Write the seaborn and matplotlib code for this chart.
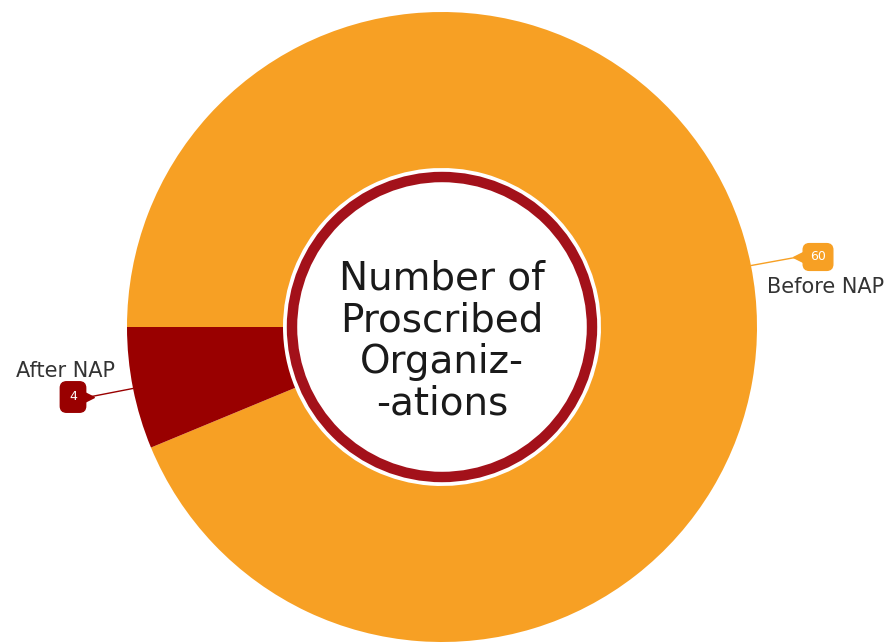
import matplotlib
matplotlib.use("Agg")
import matplotlib.pyplot as plt
from matplotlib.patches import Circle
import seaborn as sns
import numpy as np

# Proscribed organizations before / after the National Action Plan
labels = ["Before NAP", "After NAP"]
values = [60, 4]
colors = ["#F7A024", "#990000"]
center_title = "Number of\nProscribed\nOrganiz-\n-ations"

sns.set_theme(style="white")
plt.rcParams["font.family"] = ["DejaVu Sans"]

W, H = 894, 643
fig = plt.figure(figsize=(W / 100, H / 100), dpi=100)
ax = fig.add_axes([0, 0, 1, 1])

cx, cy = 442, 316
R = 315
hole = 159

total = sum(values)
start = 180 + 360 * values[1] / total
wedges, _ = ax.pie(values, colors=colors, startangle=start, counterclock=True,
                   radius=R, center=(cx, cy), frame=True,
                   wedgeprops=dict(width=R - hole, linewidth=0))
ax.set_xlim(0, W)
ax.set_ylim(0, H)
ax.set_aspect("equal")
ax.axis("off")

# centre disc with dark red ring
ax.add_patch(Circle((cx, cy), 150, facecolor="white", edgecolor="#A3111A",
                    linewidth=7.5, zorder=5))
ax.text(cx, cy - 14, center_title, ha="center", va="center", fontsize=28,
        color="#1a1a1a", linespacing=1.12, zorder=6)

# callout labels
for wedge, lab, val, col in zip(wedges, labels, values, colors):
    mid = np.deg2rad((wedge.theta1 + wedge.theta2) / 2)
    px, py = cx + R * np.cos(mid), cy + R * np.sin(mid)
    if np.cos(mid) > 0:
        bx, by = 818, 386
        ax.plot([px, bx - 20], [py, by], color=col, lw=1, zorder=3)
        ax.plot(bx - 19, by, marker="<", ms=9, color=col, zorder=4)
        ax.text(bx, by, str(val), ha="center", va="center", fontsize=9,
                color="white", zorder=5,
                bbox=dict(boxstyle="round,pad=0.55,rounding_size=0.5",
                          fc=col, ec=col))
        ax.text(826, 356, lab, ha="center", va="center", fontsize=15,
                color="#333333")
    else:
        bx, by = 73, 246
        ax.plot([px, bx + 16], [py, by], color=col, lw=1, zorder=3)
        ax.plot(bx + 15, by, marker=">", ms=9, color=col, zorder=4)
        ax.text(bx, by, str(val), ha="center", va="center", fontsize=9,
                color="white", zorder=5,
                bbox=dict(boxstyle="round,pad=0.7,rounding_size=0.5",
                          fc=col, ec=col))
        ax.text(65, 272, lab, ha="center", va="center", fontsize=15,
                color="#333333")

fig.savefig("out.png", dpi=100)
